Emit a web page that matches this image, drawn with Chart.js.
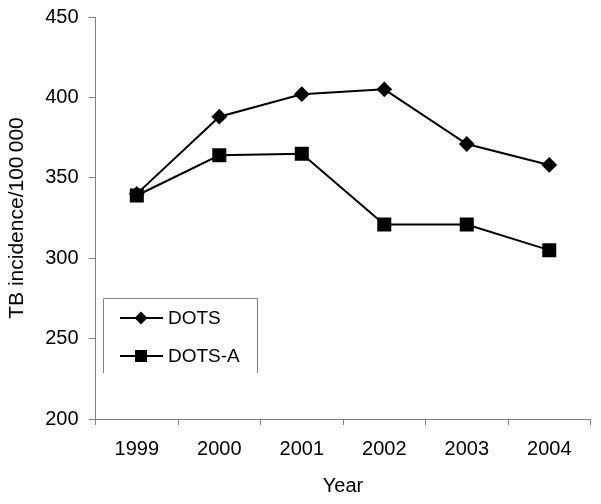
<!DOCTYPE html>
<html>
<head>
<meta charset="utf-8">
<script src="https://cdn.jsdelivr.net/npm/chart.js@4/dist/chart.umd.min.js"></script>
<style>
  html, body { margin: 0; padding: 0; background: #fff; }
  #wrap { width: 601px; height: 504px; }
</style>
</head>
<body>
<div id="wrap"><canvas id="myChart" width="601" height="504"></canvas></div>
<script>
// data
let anos = ['1999', '2000', '2001', '2002', '2003', '2004']
let dots = [340, 388, 402, 405, 371, 358]
let dotsA = [339, 364, 365, 321, 321, 305]
let yTicks = [200, 250, 300, 350, 400, 450]

const fonte = '"Liberation Sans", Arial, sans-serif'

// legend box drawn by hand, sits inside the plot at bottom-left
const legendaBox = {
  id: 'legendaBox',
  afterDraw(chart) {
    let ctx = chart.ctx
    let x0 = 103, y0 = 298, x1 = 257, y1 = 373
    ctx.save()
    ctx.strokeStyle = '#808080'
    ctx.lineWidth = 1
    ctx.beginPath()
    ctx.moveTo(x0 + 0.5, y1)
    ctx.lineTo(x0 + 0.5, y0 + 0.5)
    ctx.lineTo(x1 + 0.5, y0 + 0.5)
    ctx.lineTo(x1 + 0.5, y1)
    ctx.stroke()

    chart.data.datasets.forEach((ds, i) => {
      let y = 318 + i * 38
      ctx.strokeStyle = '#000'
      ctx.lineWidth = 2
      ctx.beginPath()
      ctx.moveTo(120, y)
      ctx.lineTo(163, y)
      ctx.stroke()
      ctx.fillStyle = '#000'
      ctx.beginPath()
      if (ds.pointStyle == 'rectRot') {
        ctx.moveTo(141, y - 6.5)
        ctx.lineTo(147.5, y)
        ctx.lineTo(141, y + 6.5)
        ctx.lineTo(134.5, y)
        ctx.closePath()
      } else {
        ctx.rect(135, y - 6, 12, 12)
      }
      ctx.fill()
      ctx.font = '19px ' + fonte
      ctx.textBaseline = 'middle'
      ctx.textAlign = 'left'
      ctx.fillText(ds.label, 168, y + 1)
    })
    ctx.restore()
  }
}

var ctx = document.getElementById('myChart').getContext('2d')
var myChart = new Chart(ctx, {
  type: 'line',
  data: {
    labels: anos,
    datasets: [{
      label: 'DOTS',
      data: dots,
      borderColor: '#000',
      backgroundColor: '#000',
      borderWidth: 2,
      pointStyle: 'rectRot',
      pointRadius: 6.5,
      pointHoverRadius: 6.5,
      tension: 0
    }, {
      label: 'DOTS-A',
      data: dotsA,
      borderColor: '#000',
      backgroundColor: '#000',
      borderWidth: 2,
      pointStyle: 'rect',
      pointRadius: 8.5,
      pointHoverRadius: 8.5,
      tension: 0
    }]
  },
  options: {
    responsive: false,
    animation: false,
    layout: { padding: { top: 0, right: 10, left: 4, bottom: 6 } },
    plugins: {
      legend: { display: false },
      tooltip: { enabled: false }
    },
    scales: {
      x: {
        offset: true,
        grid: { offset: true, drawOnChartArea: false, color: '#808080', tickLength: 6 },
        border: { color: '#808080', width: 1 },
        ticks: { color: '#000', font: { family: fonte, size: 20 }, padding: 12, maxRotation: 0 },
        title: { display: true, text: 'Year', color: '#000', font: { family: fonte, size: 20 }, padding: { top: 1, bottom: 0 } }
      },
      y: {
        min: yTicks[0],
        max: yTicks[yTicks.length - 1],
        afterBuildTicks: (axis) => { axis.ticks = yTicks.map(v => ({ value: v })) },
        grid: { drawOnChartArea: false, color: '#808080', tickLength: 7 },
        border: { color: '#808080', width: 1 },
        ticks: { color: '#000', font: { family: fonte, size: 20, lineHeight: 0.7 }, padding: 10 },
        title: { display: true, text: 'TB incidence/100\u2009000', color: '#000', font: { family: fonte, size: 21 }, padding: { top: 1, bottom: 5 } }
      }
    }
  },
  plugins: [legendaBox]
})
</script>
</body>
</html>
